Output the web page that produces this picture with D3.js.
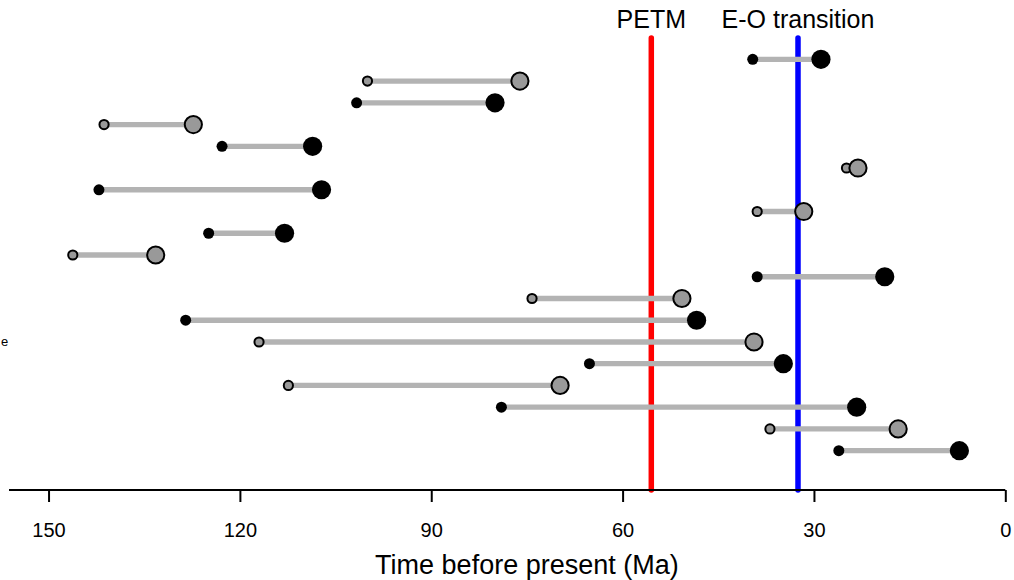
<!DOCTYPE html>
<html>
<head>
<meta charset="utf-8">
<script src="https://cdn.jsdelivr.net/npm/d3@7"></script>
<style>
  html, body { margin: 0; padding: 0; background: #fff; }
  svg { display: block; font-family: "Liberation Sans", Arial, sans-serif; }
</style>
</head>
<body>
<svg id="chart" width="1014" height="580"></svg>
<script>
// ---- data (Ma, time before present) ----
const rowIndex = [0,1,2,3,4,5,6,7,8,9,10,11,12,13,14,15,16,17,18];
const startAge = [39.6,100.0,101.7,141.3,122.8,24.9,142.1,38.9,124.9,146.2,38.9,74.2,128.5,117.0,65.2,112.4,79.0,36.9,26.1];
const endAge   = [28.9,76.1,80.0,127.3,108.6,23.1,107.2,31.6,113.0,133.2,18.9,50.7,48.4,39.4,34.8,69.8,23.3,16.8,7.2];
const group    = ["black","grey","black","grey","black","grey","black","grey","black","grey","black","grey","black","grey","black","grey","black","grey","black"];
const eventNames = ["PETM", "E-O transition"];
const eventAges  = [55.5, 32.5];
const eventColors = ["#ff0000", "#0000ff"];
const xTicks = [150, 120, 90, 60, 30, 0];
const xTitle = "Time before present (Ma)";
const leftLabel = "e";

const svg = d3.select("#chart");
const x = d3.scaleLinear().domain([156.2, 0]).range([9, 1005.3]);
const y = d3.scaleLinear().domain([0, 18]).range([59.3, 450.7]);
const axisY = 490;

// event lines
svg.selectAll("line.event").data(eventAges).enter().append("line")
  .attr("x1", d => x(d)).attr("x2", d => x(d))
  .attr("y1", 38).attr("y2", axisY)
  .attr("stroke", (d, i) => eventColors[i])
  .attr("stroke-width", 5.5)
  .attr("stroke-linecap", "round");

svg.selectAll("text.event").data(eventAges).enter().append("text")
  .attr("x", d => x(d)).attr("y", 28.3)
  .attr("text-anchor", "middle")
  .attr("font-size", 25)
  .attr("fill", "#000")
  .text((d, i) => eventNames[i]);

const rows = rowIndex.map(i => ({ i, s: startAge[i], e: endAge[i], g: group[i] }));

// segments
svg.selectAll("line.seg").data(rows).enter().append("line")
  .attr("x1", d => x(d.s)).attr("x2", d => x(d.e))
  .attr("y1", d => y(d.i)).attr("y2", d => y(d.i))
  .attr("stroke", "#b3b3b3")
  .attr("stroke-width", 5.3);

// start points (small)
svg.selectAll("circle.s").data(rows).enter().append("circle")
  .attr("cx", d => x(d.s)).attr("cy", d => y(d.i))
  .attr("r", d => d.g === "black" ? 5.5 : 4.6)
  .attr("fill", d => d.g === "black" ? "#000" : "#999999")
  .attr("stroke", "#000")
  .attr("stroke-width", d => d.g === "black" ? 0 : 2);

// end points (large)
svg.selectAll("circle.e").data(rows).enter().append("circle")
  .attr("cx", d => x(d.e)).attr("cy", d => y(d.i))
  .attr("r", d => d.g === "black" ? 9.6 : 8.6)
  .attr("fill", d => d.g === "black" ? "#000" : "#999999")
  .attr("stroke", "#000")
  .attr("stroke-width", d => d.g === "black" ? 0 : 2);

// x axis
const axis = d3.axisBottom(x).tickValues(xTicks).tickSize(12).tickPadding(8).tickFormat(d3.format("d"));
const gA = svg.append("g").attr("transform", `translate(0,${axisY})`).call(axis);
gA.select(".domain").remove();
gA.append("line").attr("x1", 9).attr("x2", 1005.3).attr("y1", 0).attr("y2", 0)
  .attr("stroke", "#000").attr("stroke-width", 2);
gA.selectAll(".tick line").attr("stroke", "#000").attr("stroke-width", 2);
gA.selectAll(".tick text").attr("font-size", 20).attr("fill", "#000")
  .attr("font-family", "Liberation Sans, Arial, sans-serif")
  .attr("dy", null).attr("y", 47);

svg.append("text")
  .attr("x", (x(150) + x(0)) / 2).attr("y", 574)
  .attr("text-anchor", "middle").attr("font-size", 27).attr("fill", "#000")
  .text(xTitle);

svg.append("text")
  .attr("x", 1).attr("y", 346)
  .attr("text-anchor", "start").attr("font-size", 13).attr("fill", "#000")
  .text(leftLabel);
</script>
</body>
</html>
